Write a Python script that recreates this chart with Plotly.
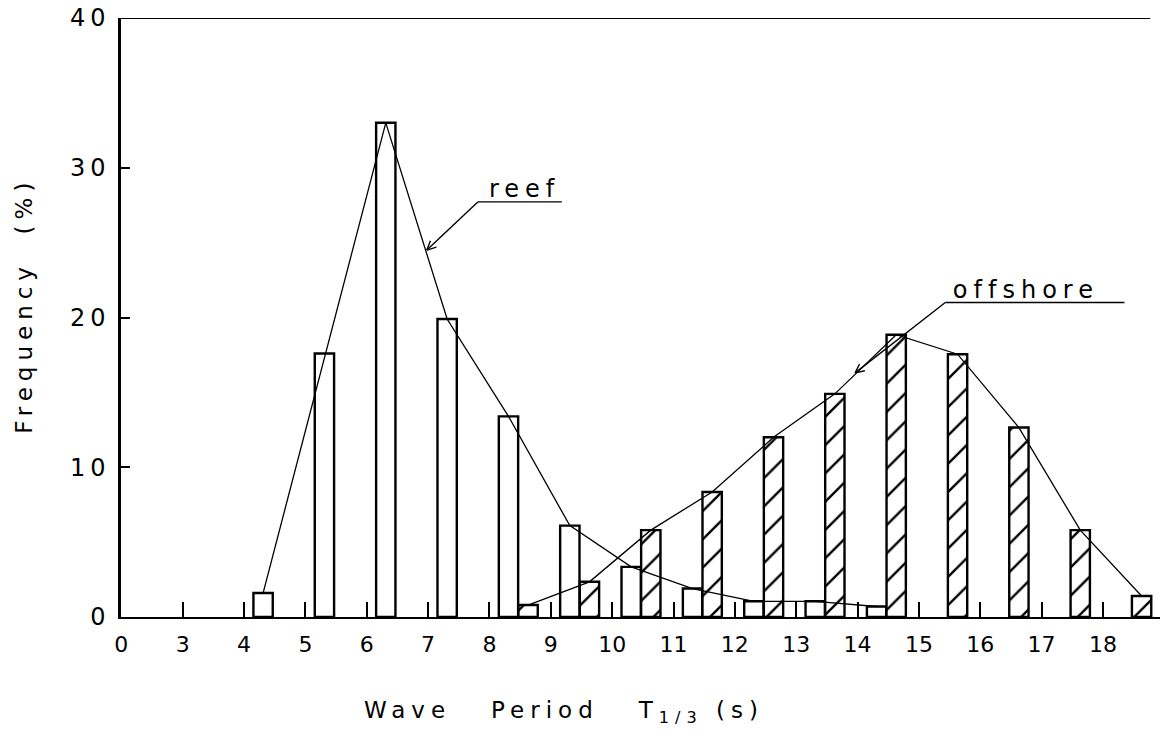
import math
import plotly.graph_objects as go

# ---- data ----
reef_periods = [4, 5, 6, 7, 8, 9, 10, 11, 12, 13, 14]
reef_freq = [1.6, 17.6, 33.0, 19.9, 13.4, 6.1, 3.35, 1.9, 1.05, 1.05, 0.7]
offshore_periods = [8, 9, 10, 11, 12, 13, 14, 15, 16, 17, 18]
offshore_freq = [0.8, 2.35, 5.8, 8.35, 12.0, 14.9, 18.85, 17.55, 12.65, 5.8, 1.4]
# hand-drawn reef curve passes over the 5 s bar
reef_curve_periods = [4, 6, 7, 8, 9, 10, 11, 12, 13, 14]
x_tick_vals = [2, 3, 4, 5, 6, 7, 8, 9, 10, 11, 12, 13, 14, 15, 16, 17, 18]
x_tick_text = ["0", "3", "4", "5", "6", "7", "8", "9", "10", "11", "12",
               "13", "14", "15", "16", "17", "18"]
y_tick_vals = [0, 10, 20, 30, 40]

REEF_OFF = 0.31
OFF_OFF = 0.63
BAR_W = 0.315
FONT = "DejaVu Sans"

W, H = 1165, 740
ML, MR, MT, MB = 121, 5, 18, 123
X0, X1 = 1.994, 18.93
Y0, Y1 = 0, 40
XS = (W - ML - MR) / (X1 - X0)   # px per second
YS = (H - MT - MB) / (Y1 - Y0)   # px per percent

reef_lookup = dict(zip(reef_periods, reef_freq))

fig = go.Figure()
fig.add_trace(go.Bar(
    x=[p + REEF_OFF for p in reef_periods], y=reef_freq, width=BAR_W,
    marker=dict(color="white", line=dict(color="black", width=2.4)),
    name="reef", showlegend=False))
fig.add_trace(go.Bar(
    x=[p + OFF_OFF for p in offshore_periods], y=offshore_freq, width=BAR_W,
    marker=dict(color="white", line=dict(color="black", width=2.4),
                pattern=dict(shape="/", fgcolor="black", bgcolor="white",
                             size=20, solidity=0.12, fillmode="replace")),
    name="offshore", showlegend=False))
fig.add_trace(go.Scatter(
    x=[p + REEF_OFF for p in reef_curve_periods],
    y=[reef_lookup[p] for p in reef_curve_periods],
    mode="lines", line=dict(color="black", width=1.3), showlegend=False))
fig.add_trace(go.Scatter(
    x=[p + OFF_OFF for p in offshore_periods], y=offshore_freq,
    mode="lines", line=dict(color="black", width=1.3), showlegend=False))

fig.update_layout(
    width=W, height=H,
    margin=dict(l=ML, r=MR, t=MT, b=MB),
    paper_bgcolor="white", plot_bgcolor="white",
    barmode="overlay",
    font=dict(family=FONT, color="black", size=22),
    xaxis=dict(range=[X0, X1], tickmode="array", tickvals=x_tick_vals,
               ticktext=x_tick_text, ticks="inside", ticklen=15, tickwidth=2,
               tickcolor="black", showline=True, linecolor="black",
               linewidth=2.2, showgrid=False, zeroline=False,
               tickfont=dict(size=22, family=FONT), ticklabelstandoff=6),
    yaxis=dict(range=[Y0, Y1], tickmode="array", tickvals=y_tick_vals,
               ticks="inside", ticklen=9, tickwidth=1.8, tickcolor="black",
               showline=True, linecolor="black", linewidth=2.5,
               showgrid=False, zeroline=False,
               tickfont=dict(size=24, family=FONT), ticklabelstandoff=3),
)

# top border
fig.add_shape(type="line", xref="x", yref="y", x0=X0, x1=18.77, y0=40, y1=40,
              line=dict(color="black", width=2))


def leader(tip_x, tip_y, start_x, start_y, end_x):
    """Underline from start to end, leader from start to tip, open barb at tip."""
    line = dict(color="black", width=1.4)
    fig.add_shape(type="line", xref="x", yref="y", x0=start_x, x1=end_x,
                  y0=start_y, y1=start_y, line=line)
    fig.add_shape(type="line", xref="x", yref="y", x0=start_x, x1=tip_x,
                  y0=start_y, y1=tip_y, line=line)
    dxp = (start_x - tip_x) * XS
    dyp = (start_y - tip_y) * YS
    ang = math.atan2(dyp, dxp)
    for s in (-0.45, 0.45):
        bx = tip_x + 10 * math.cos(ang + s) / XS
        by = tip_y + 10 * math.sin(ang + s) / YS
        fig.add_shape(type="line", xref="x", yref="y", x0=tip_x, x1=bx,
                      y0=tip_y, y1=by, line=line)


# ---- reef label ----
leader(6.98, 24.5, 7.81, 27.72, 9.18)
fig.add_annotation(x=8.58, y=28.55, xref="x", yref="y", text="reef",
                   showarrow=False, font=dict(size=24, family=FONT),
                   xanchor="center", yanchor="middle")

# ---- offshore label ----
leader(13.96, 16.3, 15.43, 21.0, 18.35)
fig.add_annotation(x=16.75, y=21.85, xref="x", yref="y", text="offshore",
                   showarrow=False, font=dict(size=24, family=FONT),
                   xanchor="center", yanchor="middle")

# ---- axis titles ----
fig.add_annotation(x=0.426, y=-0.158, xref="paper", yref="paper",
                   text="Wave   Period   T<sub>1/3</sub> (s)", showarrow=False,
                   font=dict(size=23, family=FONT), xanchor="center",
                   yanchor="middle")
fig.add_annotation(x=-0.094, y=0.52, xref="paper", yref="paper",
                   text="Frequency  (%)", textangle=-90, showarrow=False,
                   font=dict(size=23, family=FONT), xanchor="center",
                   yanchor="middle")

post = """
document.body.style.margin='0';
document.querySelectorAll('.annotation-text').forEach(function(t){t.style.letterSpacing='6px';});
document.querySelectorAll('.ytick text').forEach(function(t){t.style.letterSpacing='5px';});
"""
fig.write_html("out.html", post_script=post, config={"displayModeBar": False})
